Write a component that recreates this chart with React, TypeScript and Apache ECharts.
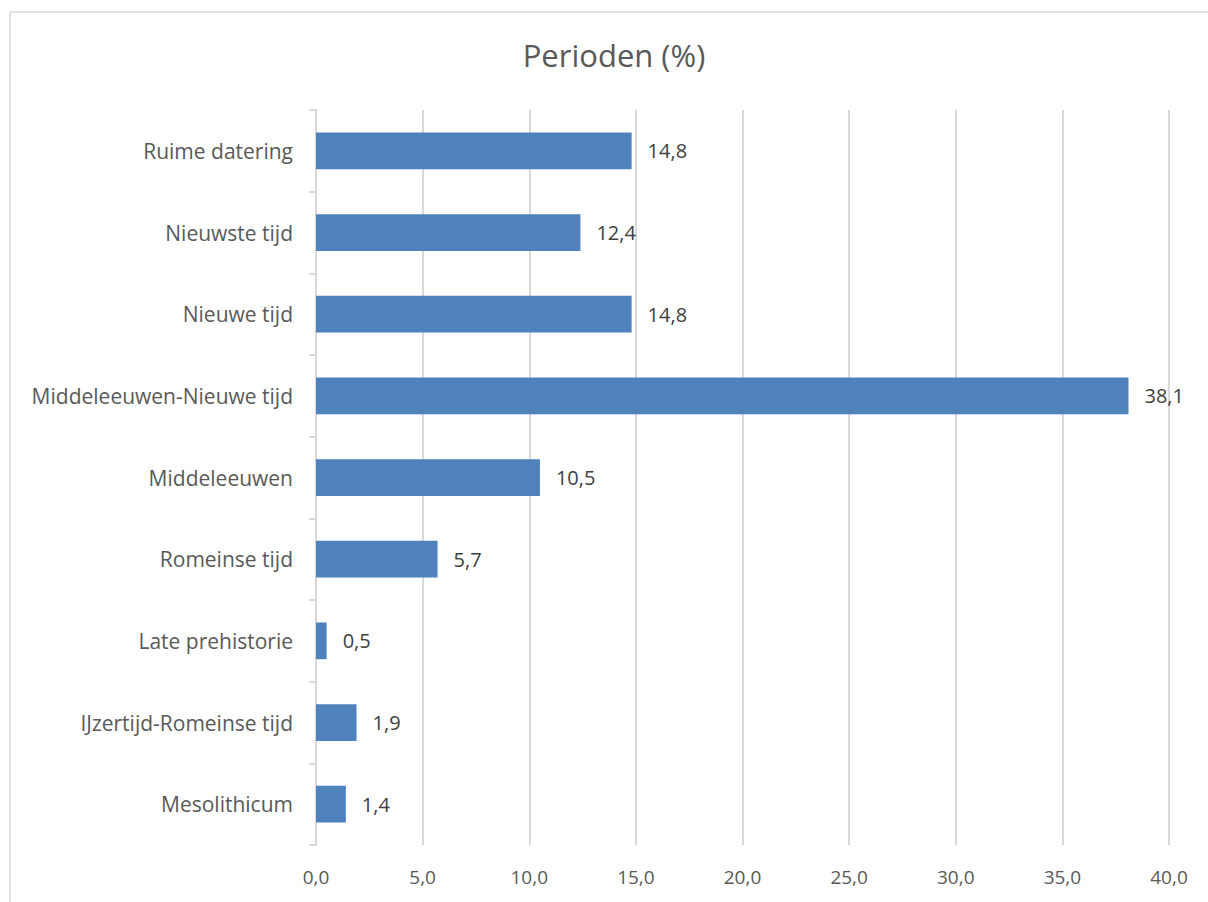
import React, { useEffect, useRef } from "react";
import * as echarts from "echarts";

const categories = [
  "Ruime datering",
  "Nieuwste tijd",
  "Nieuwe tijd",
  "Middeleeuwen-Nieuwe tijd",
  "Middeleeuwen",
  "Romeinse tijd",
  "Late prehistorie",
  "IJzertijd-Romeinse tijd",
  "Mesolithicum",
];
const values = [14.8, 12.4, 14.8, 38.1, 10.5, 5.7, 0.5, 1.9, 1.4];
const titleText = "Perioden (%)";
const xMin = 0;
const xMax = 40;
const xStep = 5;

const fmt = (v: number) => v.toFixed(1).replace(".", ",");
const FONT = "Open Sans";
const TXT = "#595959";
const GRID = "#d9d9d9";

export default function App() {
  const ref = useRef<HTMLDivElement>(null);
  useEffect(() => {
    if (!ref.current) return;
    const chart = echarts.init(ref.current, undefined, { renderer: "svg" });
    chart.setOption({
      animation: false,
      backgroundColor: "#ffffff",
      graphic: [
        {
          type: "rect",
          shape: { x: 10, y: 12, width: 1300, height: 1000 },
          style: { fill: "none", stroke: GRID, lineWidth: 1.5 },
          silent: true,
          z: 0,
        },
        {
          type: "text",
          x: 614,
          y: 55,
          style: {
            text: titleText,
            fontFamily: FONT,
            fontSize: 31,
            fill: TXT,
            textAlign: "center",
            textVerticalAlign: "middle",
          },
        },
      ],
      grid: { left: 316, right: 39, top: 110, bottom: 57, containLabel: false },
      xAxis: {
        type: "value",
        min: xMin,
        max: xMax,
        interval: xStep,
        axisLine: { show: false },
        axisTick: { show: false },
        splitLine: { show: true, lineStyle: { color: GRID, width: 2 } },
        axisLabel: {
          formatter: (v: number) => fmt(v),
          color: TXT,
          fontFamily: FONT,
          fontSize: 19,
          margin: 22,
        },
      },
      yAxis: {
        type: "category",
        data: categories,
        inverse: true,
        axisLine: { show: true, lineStyle: { color: GRID, width: 2 } },
        axisTick: { show: true, length: 7, lineStyle: { color: GRID, width: 2 } },
        axisLabel: {
          color: TXT,
          fontFamily: FONT,
          fontSize: 21,
          margin: 23,
        },
      },
      series: [
        {
          type: "bar",
          data: values,
          barWidth: "45%",
          itemStyle: { color: "#4f81bd" },
          label: {
            show: true,
            position: "right",
            distance: 16,
            formatter: (p: any) => fmt(p.value),
            color: "#404040",
            fontFamily: FONT,
            fontSize: 20,
          },
        },
      ],
    });
    return () => chart.dispose();
  }, []);
  return (
    <div
      ref={ref}
      style={{ position: "fixed", left: 0, top: 0, width: 1208, height: 902 }}
    />
  );
}
